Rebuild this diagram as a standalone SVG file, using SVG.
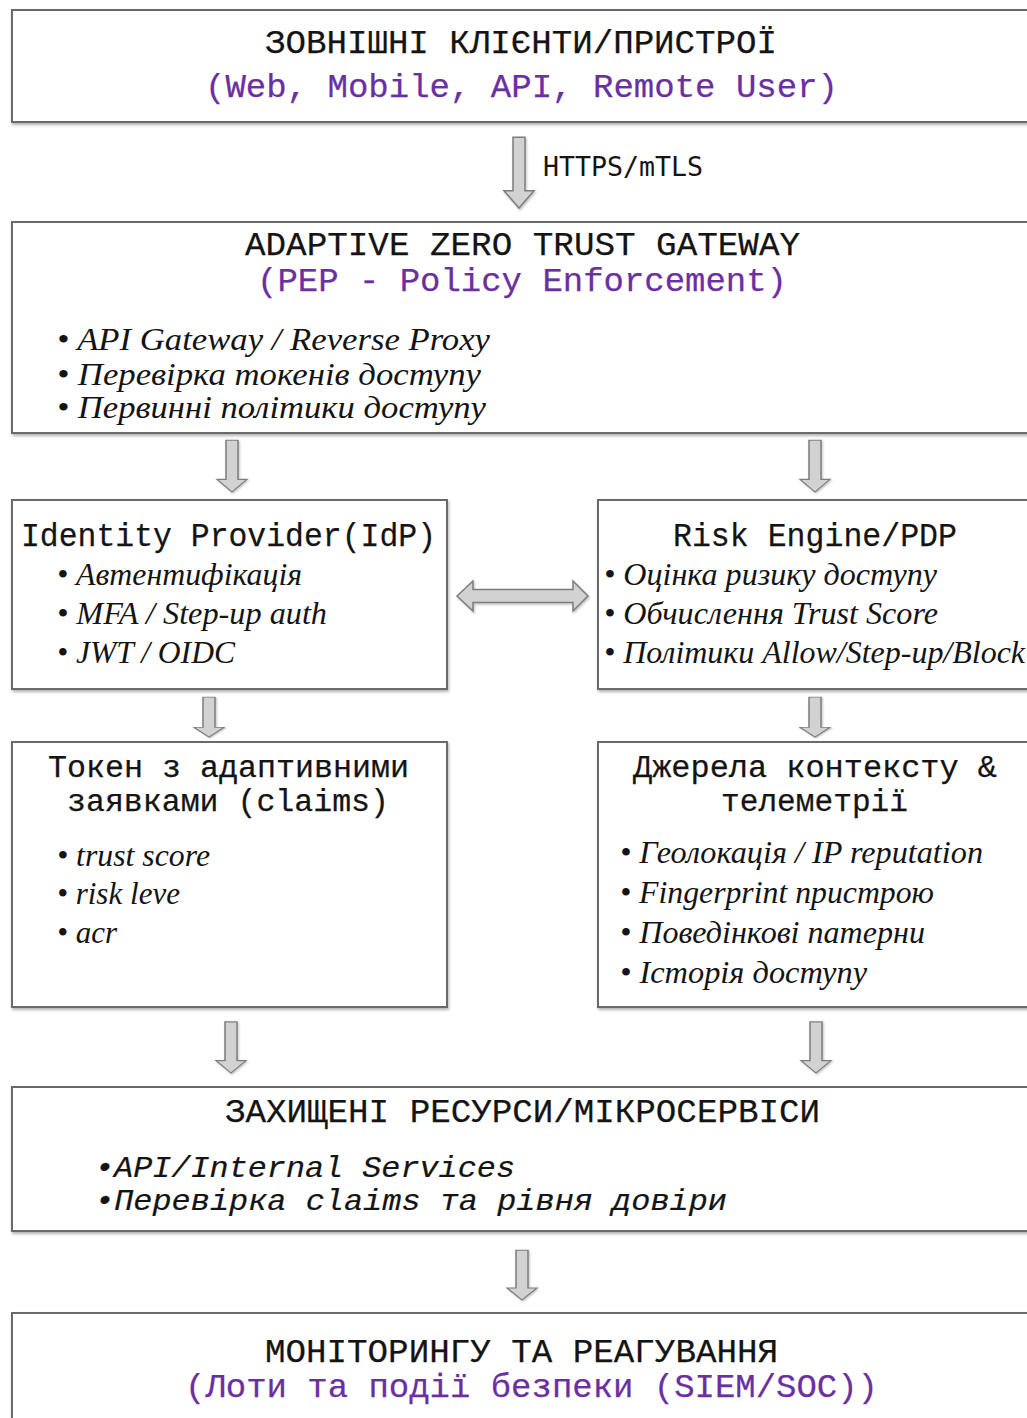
<svg xmlns="http://www.w3.org/2000/svg" width="1027" height="1418" viewBox="0 0 1027 1418">
  <defs>
    <filter id="shadow" x="-5%" y="-5%" width="110%" height="115%">
      <feDropShadow dx="1" dy="2" stdDeviation="1.5" flood-color="#000" flood-opacity="0.3"/>
    </filter>
    <filter id="ashadow" x="-30%" y="-10%" width="160%" height="130%">
      <feDropShadow dx="1" dy="1.5" stdDeviation="1.2" flood-color="#000" flood-opacity="0.25"/>
    </filter>
    <!-- block arrow pointing down, tip at (0,0) -->
    <path id="down" d="M -6,-70 L 6,-70 L 6,-17 L 15,-17 L 0,0 L -15,-17 L -6,-17 Z"/>
  </defs>
  <style>
    .box { fill: #ffffff; stroke: #6b6b6b; stroke-width: 2; filter: url(#shadow); }
    .arrow { fill: #d2d2d2; stroke: #7d7d7d; stroke-width: 1.5; stroke-linejoin: miter; filter: url(#ashadow); }
    .mono { font-family: "Liberation Mono", "DejaVu Sans Mono", monospace; fill: #141414; stroke: #141414; stroke-width: 0.25; }
    .title { font-size: 34px; }
    .title2 { font-size: 31px; }
    .sub { font-size: 34px; fill: #6b2fa2; stroke: #6b2fa2; }
    .label { font-family: "DejaVu Sans Mono", monospace; font-size: 26px; fill: #141414; }
    .ital { font-family: "Liberation Serif", "DejaVu Serif", serif; font-style: italic; font-size: 32px; fill: #141414; }
    .monoit { font-family: "Liberation Mono", "DejaVu Sans Mono", monospace; font-style: italic; font-size: 30px; fill: #141414; stroke: #141414; stroke-width: 0.2; }
  </style>

  <rect width="1027" height="1418" fill="#ffffff"/>

  <!-- connectors -->
  <g id="connectors">
    <use href="#down" class="arrow" transform="translate(519,208) scale(1,1.01)"/>
    <use href="#down" class="arrow" transform="translate(232,492) scale(1,0.74)"/>
    <use href="#down" class="arrow" transform="translate(815,492) scale(1,0.74)"/>
    <use href="#down" class="arrow" transform="translate(209,737) scale(1,0.57)"/>
    <use href="#down" class="arrow" transform="translate(815,737) scale(1,0.57)"/>
    <use href="#down" class="arrow" transform="translate(231,1073) scale(1,0.73)"/>
    <use href="#down" class="arrow" transform="translate(816,1073) scale(1,0.73)"/>
    <use href="#down" class="arrow" transform="translate(522,1300) scale(1,0.71)"/>
    <!-- two-way link between IdP and Risk Engine -->
    <path class="arrow" d="M 457,596 L 473,581 L 473,589.5 L 573,589.5 L 573,581 L 588,596 L 573,611 L 573,602.5 L 473,602.5 L 473,611 Z"/>
    <text class="label" x="543" y="176" textLength="160" lengthAdjust="spacingAndGlyphs">HTTPS/mTLS</text>
  </g>

  <g id="clients">
    <rect class="box" x="12" y="10" width="1030" height="112"/>
    <text class="mono title" x="265" y="53" textLength="512" lengthAdjust="spacingAndGlyphs">ЗОВНІШНІ КЛІЄНТИ/ПРИСТРОЇ</text>
    <text class="mono sub" x="205" y="97" textLength="633" lengthAdjust="spacingAndGlyphs">(Web, Mobile, API, Remote User)</text>
  </g>

  <g id="gateway">
    <rect class="box" x="12" y="222" width="1030" height="211"/>
    <text class="mono title" x="245" y="255" textLength="555" lengthAdjust="spacingAndGlyphs">ADAPTIVE ZERO TRUST GATEWAY</text>
    <text class="mono sub" x="257" y="291" textLength="530" lengthAdjust="spacingAndGlyphs">(PEP - Policy Enforcement)</text>
    <text class="ital" x="57" y="350" textLength="433" lengthAdjust="spacingAndGlyphs">• API Gateway / Reverse Proxy</text>
    <text class="ital" x="57" y="385" textLength="424" lengthAdjust="spacingAndGlyphs">• Перевірка токенів доступу</text>
    <text class="ital" x="57" y="418" textLength="429" lengthAdjust="spacingAndGlyphs">• Первинні політики доступу</text>
  </g>

  <g id="idp">
    <rect class="box" x="12" y="500" width="435" height="189"/>
    <text class="mono title" x="21" y="546" textLength="415" lengthAdjust="spacingAndGlyphs">Identity Provider(IdP)</text>
    <text class="ital" x="57" y="585" textLength="245" lengthAdjust="spacingAndGlyphs">• Автентифікація</text>
    <text class="ital" x="57" y="624" textLength="270" lengthAdjust="spacingAndGlyphs">• MFA / Step-up auth</text>
    <text class="ital" x="57" y="663" textLength="178" lengthAdjust="spacingAndGlyphs">• JWT / OIDC</text>
  </g>

  <g id="risk-engine">
    <rect class="box" x="598" y="500" width="444" height="189"/>
    <text class="mono title" x="673" y="546" textLength="284" lengthAdjust="spacingAndGlyphs">Risk Engine/PDP</text>
    <text class="ital" x="604" y="585" textLength="333" lengthAdjust="spacingAndGlyphs">• Оцінка ризику доступу</text>
    <text class="ital" x="604" y="624" textLength="334" lengthAdjust="spacingAndGlyphs">• Обчислення Trust Score</text>
    <text class="ital" x="604" y="663" textLength="421" lengthAdjust="spacingAndGlyphs">• Політики Allow/Step-up/Block</text>
  </g>

  <g id="token">
    <rect class="box" x="12" y="742" width="435" height="265"/>
    <text class="mono title2" x="48" y="777" textLength="361" lengthAdjust="spacingAndGlyphs">Токен з адаптивними</text>
    <text class="mono title2" x="67" y="811" textLength="322" lengthAdjust="spacingAndGlyphs">заявками (claims)</text>
    <text class="ital" x="57" y="866" textLength="153" lengthAdjust="spacingAndGlyphs">• trust score</text>
    <text class="ital" x="57" y="904" textLength="123" lengthAdjust="spacingAndGlyphs">• risk leve</text>
    <text class="ital" x="57" y="943" textLength="60" lengthAdjust="spacingAndGlyphs">• acr</text>
  </g>

  <g id="context">
    <rect class="box" x="598" y="742" width="444" height="265"/>
    <text class="mono title2" x="633" y="777" textLength="364" lengthAdjust="spacingAndGlyphs">Джерела контексту &amp;</text>
    <text class="mono title2" x="721" y="811" textLength="187" lengthAdjust="spacingAndGlyphs">телеметрії</text>
    <text class="ital" x="620" y="863" textLength="363" lengthAdjust="spacingAndGlyphs">• Геолокація / IP reputation</text>
    <text class="ital" x="620" y="903" textLength="314" lengthAdjust="spacingAndGlyphs">• Fingerprint пристрою</text>
    <text class="ital" x="620" y="943" textLength="305" lengthAdjust="spacingAndGlyphs">• Поведінкові патерни</text>
    <text class="ital" x="620" y="983" textLength="247" lengthAdjust="spacingAndGlyphs">• Історія доступу</text>
  </g>

  <g id="resources">
    <rect class="box" x="12" y="1087" width="1030" height="144"/>
    <text class="mono title" x="225" y="1122" textLength="595" lengthAdjust="spacingAndGlyphs">ЗАХИЩЕНІ РЕСУРСИ/МІКРОСЕРВІСИ</text>
    <text class="monoit" x="95" y="1177" textLength="420" lengthAdjust="spacingAndGlyphs">•API/Internal Services</text>
    <text class="monoit" x="95" y="1210" textLength="632" lengthAdjust="spacingAndGlyphs">•Перевірка claims та рівня довіри</text>
  </g>

  <g id="monitoring">
    <rect class="box" x="12" y="1313" width="1030" height="130"/>
    <text class="mono title" x="265" y="1362" textLength="513" lengthAdjust="spacingAndGlyphs">МОНІТОРИНГУ ТА РЕАГУВАННЯ</text>
    <text class="mono sub" x="185" y="1397" textLength="693" lengthAdjust="spacingAndGlyphs">(Лоти та події безпеки (SIEM/SOC))</text>
  </g>
</svg>
